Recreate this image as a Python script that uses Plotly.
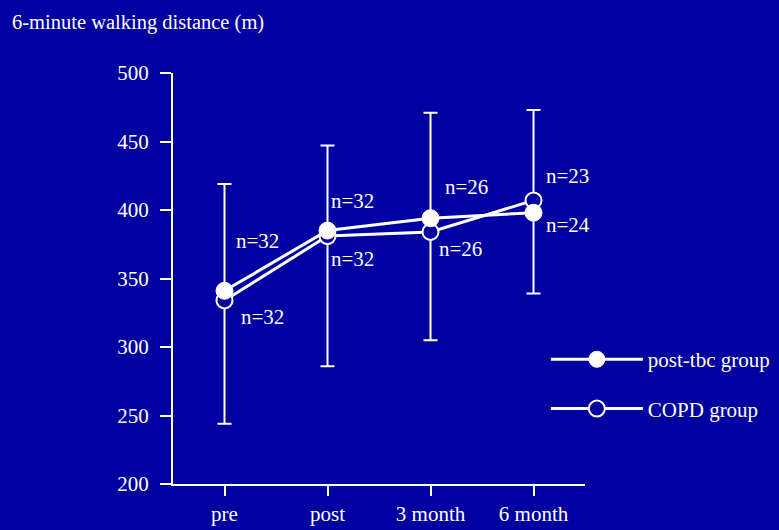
import plotly.graph_objects as go

# ---- data ----
timepoints = ["pre", "post", "3 month", "6 month"]
tbc_mean = [341, 385, 394, 398]
copd_mean = [334, 381, 384, 407]
bar_top = [419, 447, 471, 473]
bar_bottom = [244, 286, 305, 339]
n_tbc = [32, 32, 26, 24]
n_copd = [32, 32, 26, 23]

BG = "#0000a0"
FG = "white"
FONT = "Liberation Serif"

err_plus = [t - m for t, m in zip(bar_top, copd_mean)]
err_minus = [m - b for m, b in zip(copd_mean, bar_bottom)]

fig = go.Figure()
fig.add_trace(go.Scatter(
    x=timepoints, y=copd_mean, name="COPD group", mode="lines+markers",
    line=dict(color=FG, width=3),
    marker=dict(symbol="circle", size=16, color=BG, line=dict(color=FG, width=2)),
    error_y=dict(type="data", symmetric=False, array=err_plus, arrayminus=err_minus,
                 color=FG, thickness=2, width=7),
    legendrank=2, legendgroup="copd",
))
fig.add_trace(go.Scatter(
    x=timepoints, y=tbc_mean, name="post-tbc group", mode="lines+markers",
    line=dict(color=FG, width=3),
    marker=dict(symbol="circle", size=17, color=FG, line=dict(color=FG, width=1)),
    legendrank=1, legendgroup="tbc",
))

# label offsets (pixels) : (dx, dy) for label above / below the point
above_off = [(33, -50), (25, -30), (36, -31), (34, -24)]
below_off = [(38, 17), (25, 23), (30, 17), (34, 12)]

annotations = []
for i, tp in enumerate(timepoints):
    if tbc_mean[i] >= copd_mean[i]:
        pairs = [(tbc_mean[i], n_tbc[i], above_off[i]), (copd_mean[i], n_copd[i], below_off[i])]
    else:
        pairs = [(copd_mean[i], n_copd[i], above_off[i]), (tbc_mean[i], n_tbc[i], below_off[i])]
    for yv, n, (dx, dy) in pairs:
        annotations.append(dict(
            x=tp, y=yv, xref="x", yref="y", text=f"n={n}", showarrow=False,
            xshift=dx, yshift=-dy, font=dict(family=FONT, size=21, color=FG),
        ))

fig.update_layout(
    width=779, height=530,
    paper_bgcolor=BG, plot_bgcolor=BG,
    margin=dict(l=173, r=194, t=73, b=46, autoexpand=False),
    font=dict(family=FONT, size=21, color=FG),
    title=dict(text="6-minute walking distance (m)", x=12 / 779, xanchor="left",
               xref="container", yref="container", y=1 - 22 / 530, yanchor="middle",
               font=dict(family=FONT, size=20.5, color=FG)),
    showlegend=True,
    legend=dict(x=0.905, xanchor="left", y=0.243, yanchor="middle",
                bgcolor="rgba(0,0,0,0)", font=dict(family=FONT, size=21, color=FG),
                itemwidth=92, tracegroupgap=19, traceorder="grouped"),
    annotations=annotations,
)
fig.update_xaxes(range=[-0.5, 3.5], showgrid=False, zeroline=False, showline=True,
                 linecolor=FG, linewidth=2, ticks="outside", ticklen=10, tickwidth=2,
                 tickcolor=FG,
                 tickfont=dict(family=FONT, size=21, color=FG))
fig.update_yaxes(range=[200, 500], tickvals=[200, 250, 300, 350, 400, 450, 500],
                 showgrid=False, zeroline=False, showline=True, linecolor=FG, linewidth=2,
                 ticks="outside", ticklen=11, tickwidth=2, tickcolor=FG,
                 ticklabelstandoff=7,
                 tickfont=dict(family=FONT, size=21, color=FG))

fig.write_html("out.html")
